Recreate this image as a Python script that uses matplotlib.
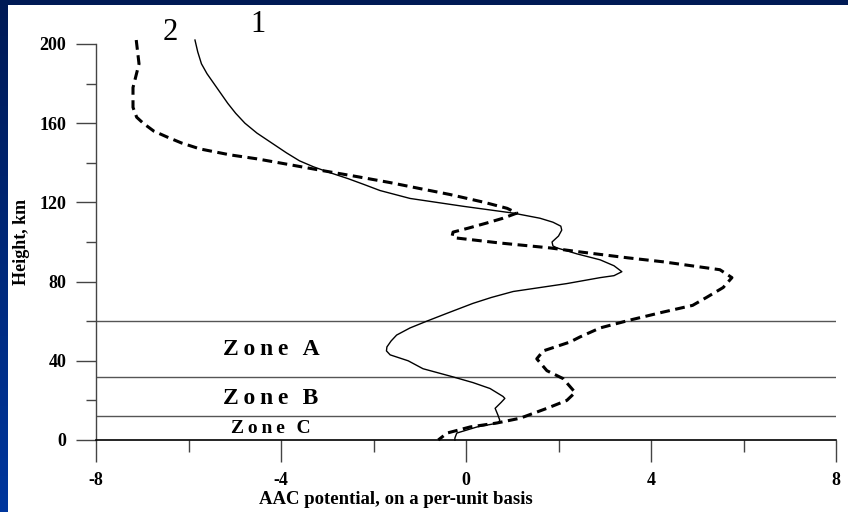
import numpy as np
import matplotlib
matplotlib.use("Agg")
import matplotlib.pyplot as plt
from matplotlib.patches import Rectangle

plt.rcParams["axes.unicode_minus"] = False

# curve 1 (solid): AAC potential vs height, km
height_1 = [202, 196, 190, 185, 180, 175, 170, 165, 160, 155, 150, 145, 141,
            138, 135, 132, 129, 126, 122, 118, 114.6, 112, 110, 108, 106, 103,
            100, 98, 97, 94, 91, 88, 85, 83, 82, 79, 75, 72, 69, 64, 60, 56.6,
            53, 50, 47, 45, 43, 40, 36, 32, 29, 26, 22, 21, 19, 16, 12.6, 10,
            8.6, 6.6, 3.5, 1, 0]
aac_1 = [-5.86, -5.8, -5.72, -5.6, -5.45, -5.3, -5.15, -4.98, -4.78, -4.52,
         -4.2, -3.88, -3.6, -3.3, -2.94, -2.55, -2.2, -1.86, -1.21, -0.05,
         1.02, 1.6, 1.88, 2.05, 2.07, 2.0, 1.86, 1.88, 1.97, 2.4, 2.9, 3.2,
         3.37, 3.2, 2.9, 2.18, 1.02, 0.55, 0.15, -0.41, -0.85, -1.21, -1.5,
         -1.62, -1.71, -1.72, -1.64, -1.25, -0.93, -0.3, 0.15, 0.52, 0.8,
         0.84, 0.76, 0.63, 0.69, 0.73, 0.7, 0.24, -0.2, -0.24, -0.24]

# curve 2 (dashed)
height_2 = [202, 190, 178, 168, 163, 160, 156, 153, 150, 147, 144, 142, 139,
            136, 133, 130, 127, 124, 120, 117, 114.6, 112, 109.6, 107, 105,
            103, 102, 99.5, 97, 95, 92, 90, 86, 82, 77, 72, 68, 64.6, 60.6,
            56.6, 52, 49.5, 45, 41, 35, 31, 24, 20, 16, 11, 8.6, 6.6, 3.5, 0]
aac_2 = [-7.13, -7.07, -7.2, -7.2, -7.12, -6.98, -6.75, -6.46, -6.15, -5.75,
         -5.1, -4.52, -3.8, -3.09, -2.35, -1.64, -1.0, -0.35, 0.4, 0.89, 1.1,
         0.8, 0.45, 0.05, -0.28, -0.3, -0.2, 0.73, 1.82, 2.46, 3.5, 4.26,
         5.49, 5.75, 5.56, 5.2, 4.9, 4.26, 3.55, 2.9, 2.46, 2.25, 1.67, 1.53,
         1.75, 2.1, 2.36, 2.18, 1.75, 1.17, 0.67, 0.09, -0.41, -0.6]

zone_bounds = [60, 32, 12]
zone_names = ["Zone A", "Zone B", "Zone C"]
zone_label_h = [45.5, 21, 6]

x_major = [-8, -4, 0, 4, 8]
x_minor = [-6, -2, 2, 6]
y_major = [0, 40, 80, 120, 160, 200]
y_minor = [20, 60, 100, 140, 180]

serif = ["Liberation Serif", "DejaVu Serif"]

fig = plt.figure(figsize=(8.48, 5.12), dpi=100)

# dark blue slide background with a white panel
bg = fig.add_axes([0, 0, 1, 1], zorder=-2)
grad = np.linspace(0, 1, 256).reshape(-1, 1)
bg.imshow(grad, aspect="auto", extent=[0, 1, 0, 1], origin="upper",
          cmap=matplotlib.colors.LinearSegmentedColormap.from_list(
              "slide", ["#001a55", "#00379e"]))
bg.axis("off")
fig.patches.append(Rectangle((8 / 848, 0), 1, 507 / 512, transform=fig.transFigure,
                             facecolor="white", edgecolor="none", zorder=-1))

ax = fig.add_axes([96 / 848, 72 / 512, 740 / 848, 396 / 512])
ax.set_facecolor("none")

ax.plot(aac_1, height_1, color="black", lw=1.0, clip_on=False)
ax.plot(aac_2, height_2, color="black", lw=2.2, linestyle=(0, (3.2, 1.8)),
        clip_on=False)

for h in zone_bounds:
    ax.axhline(h, color="#555555", lw=1.0, zorder=0)

# letter-spaced zone captions, like the original slide
for name, h in zip(zone_names, zone_label_h):
    fs = 14 if name == "Zone C" else 17
    spaced = "\u2009".join(name.replace(" ", "\u2009"))
    ax.text(-4.22, h, spaced, ha="center", va="center", fontsize=fs,
            fontweight="bold", family=serif)

ax.text(-6.4, 206, "2", ha="center", va="center", fontsize=22, family=serif,
        clip_on=False)
ax.text(-4.5, 210, "1", ha="center", va="center", fontsize=22, family=serif,
        clip_on=False)

ax.set_xlim(-8, 8)
ax.set_ylim(0, 200)
ax.spines["top"].set_visible(False)
ax.spines["right"].set_visible(False)
ax.spines["left"].set_color("#444444")
ax.spines["bottom"].set_color("black")
ax.spines["left"].set_linewidth(1.0)
ax.spines["bottom"].set_linewidth(1.2)

ax.set_xticks(x_major)
ax.set_xticks(x_minor, minor=True)
ax.set_yticks(y_major)
ax.set_yticks(y_minor, minor=True)
ax.tick_params(axis="x", which="major", direction="out", length=16, width=1,
               color="#444444", pad=7)
ax.tick_params(axis="x", which="minor", direction="out", length=8.5, width=1,
               color="#444444")
ax.tick_params(axis="y", which="major", direction="out", length=14.5, width=1,
               color="#444444", pad=7)
ax.tick_params(axis="y", which="minor", direction="out", length=7, width=1,
               color="#444444")
for lab in ax.get_xticklabels() + ax.get_yticklabels():
    lab.set_family(serif)
    lab.set_fontweight("bold")
    lab.set_fontsize(13)

fig.text(396 / 848, 1 - 500 / 512, "AAC potential, on a per-unit basis",
         ha="center", va="center", fontsize=13.5, fontweight="bold", family=serif)
fig.text(21 / 848, 1 - 242 / 512, "Height, km", ha="center", va="center",
         rotation=90, fontsize=13, fontweight="bold", family=serif)

fig.savefig("out.png", dpi=100)
